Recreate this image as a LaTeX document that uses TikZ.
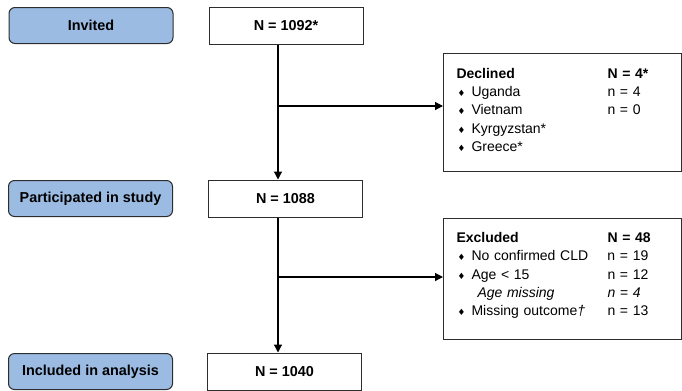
\documentclass[tikz,border=0pt]{standalone}
\usepackage{fontspec}
\setmainfont{Liberation Sans}
\newfontfamily\symfont{DejaVu Sans}
\usetikzlibrary{positioning}
\usetikzlibrary{arrows.meta}

\definecolor{stagefill}{RGB}{155,187,226}
\definecolor{boxline}{RGB}{45,45,45}

% small diamond bullet in front of a list entry
\newcommand{\bul}{\makebox[11.25pt][l]{\hspace{0.8pt}{\symfont\fontsize{6.5}{6.5}\selectfont ♦}}}

\tikzset{
	stage/.style={draw=boxline, fill=stagefill, rounded corners=4.5pt, line width=0.75pt,
		minimum width=123pt, minimum height=27pt, font=\bfseries\fontsize{10.8}{13}\selectfont},
	count/.style={draw=boxline, line width=0.75pt, minimum width=115.5pt, minimum height=27.75pt,
		font=\bfseries\fontsize{10.8}{13}\selectfont},
	listbox/.style={draw=boxline, line width=0.75pt, anchor=north west, inner xsep=9.75pt,
		inner ysep=0pt, text width=159pt, align=left, font=\fontsize{10.5}{13.7}\selectfont},
	flow/.style={line width=0.9pt, -{Triangle[length=6pt,width=6pt]}}
}

\begin{document}
\begin{tikzpicture}[x=0.75pt, y=-0.75pt]
	\useasboundingbox (0,0) rectangle (682,390);
	\clip (0,0) rectangle (682,390);

	\node[count] (n1092) at (286,25.5) {N = 1092*};
	\node[count] (n1088) at (285.5,198.5) {N = 1088};
	\node[count] (n1040) at (284.5,371.5) {N = 1040};

	\node[stage] (invited) [left=26.25pt of n1092] {Invited};
	\node[stage] (participated) [left=26.25pt of n1088] {Participated in study};
	\node[stage] (included) [left=25.5pt of n1040] {Included in analysis};

	\node[listbox, minimum height=88.5pt] (declined) at (443,53) {%
		\begin{tabular}{@{}p{113.25pt}@{}l@{}}
			\textbf{Declined} & \textbf{N = 4*}\\
			\bul Uganda & n = 4\\
			\bul Vietnam & n = 0\\
			\bul Kyrgyzstan* & \\
			\bul Greece* & \\[2pt]
		\end{tabular}};

	\node[listbox, minimum height=90.75pt] (excluded) at (443,218) {%
		\begin{tabular}{@{}p{113.25pt}@{}l@{}}
			\textbf{Excluded} & \textbf{N = 48}\\
			\bul No confirmed CLD & n = 19\\
			\bul Age < 15 & n = 12\\
			\hspace*{15.75pt}\textit{Age missing} & \textit{n = 4}\\
			\bul Missing outcome\textit{†} & n = 13\\[5.4pt]
		\end{tabular}};

	\coordinate (split1) at (278,106);
	\coordinate (split2) at (278,277);

	\path[draw, flow] (n1092.south -| split1) -- (n1088.north -| split1);
	\path[draw, flow] (split1) -- (split1 -| declined.west);

	\path[draw, flow] (n1088.south -| split2) -- (n1040.north -| split2);
	\path[draw, flow] (split2) -- (split2 -| excluded.west);

\end{tikzpicture}
\end{document}
